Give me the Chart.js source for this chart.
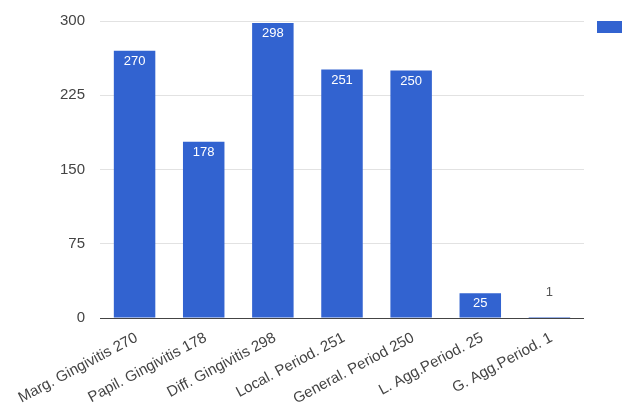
<!DOCTYPE html>
<html>
<head>
<meta charset="utf-8">
<script src="https://cdn.jsdelivr.net/npm/chart.js@4/dist/chart.umd.min.js"></script>
<style>
  html, body { margin: 0; padding: 0; background: #fff; }
  #wrap { width: 622px; height: 403px; position: relative; }
</style>
</head>
<body>
<div id="wrap"><canvas id="c" width="622" height="403"></canvas></div>
<script>
const categories = [
  'Marg. Gingivitis 270',
  'Papil. Gingivitis 178',
  'Diff. Gingivitis 298',
  'Local. Period. 251',
  'General. Period 250',
  'L. Agg.Period. 25',
  'G. Agg.Period. 1'
];
const cases = [270, 178, 298, 251, 250, 25, 1];
const yTicks = [0, 75, 150, 225, 300];

const BAR_BLUE = '#3263d0';
const FONT = '"Liberation Sans", Arial, sans-serif';

// Value labels: white inside the bar top, grey above very short bars
const valueLabels = {
  id: 'valueLabels',
  afterDatasetsDraw(chart) {
    const ctx = chart.ctx;
    const meta = chart.getDatasetMeta(0);
    ctx.save();
    ctx.font = '13px ' + FONT;
    ctx.textAlign = 'center';
    meta.data.forEach((bar, i) => {
      const v = cases[i];
      const h = bar.base - bar.y;
      if (h > 16) {
        ctx.fillStyle = '#ffffff';
        ctx.textBaseline = 'top';
        ctx.fillText(String(v), bar.x, bar.y + 4);
      } else {
        ctx.fillStyle = '#555555';
        ctx.textBaseline = 'bottom';
        ctx.fillText(String(v), bar.x, bar.y - 18);
      }
    });
    ctx.restore();
  }
};

// Legend swatch at the right edge
const legendSwatch = {
  id: 'legendSwatch',
  afterDraw(chart) {
    const ctx = chart.ctx;
    ctx.save();
    ctx.fillStyle = BAR_BLUE;
    ctx.fillRect(597, 21, 25, 12);
    ctx.restore();
  }
};

new Chart(document.getElementById('c'), {
  type: 'bar',
  data: {
    labels: categories,
    datasets: [{
      label: 'Cases',
      data: cases,
      backgroundColor: BAR_BLUE,
      borderWidth: 0,
      categoryPercentage: 1,
      barPercentage: 0.6
    }]
  },
  options: {
    responsive: false,
    animation: false,
    layout: { padding: { left: 0, right: 38, top: 21, bottom: 0 } },
    plugins: {
      legend: { display: false },
      tooltip: { enabled: false }
    },
    scales: {
      x: {
        grid: { display: false },
        border: { display: false },
        ticks: {
          autoSkip: false,
          minRotation: 28,
          maxRotation: 28,
          labelOffset: 2,
          padding: 3,
          color: '#444',
          font: { family: FONT, size: 15 }
        },
        afterFit(scale) {
          scale.height = 85;
          scale.paddingLeft = 0;
          scale.paddingRight = 0;
        }
      },
      y: {
        min: 0,
        max: 300,
        afterBuildTicks(scale) { scale.ticks = yTicks.map(v => ({ value: v })); },
        grid: {
          drawTicks: false,
          color: ctx => (ctx.tick && ctx.tick.value === 0) ? '#444' : '#e2e2e2'
        },
        border: { display: false },
        ticks: {
          padding: 15,
          color: '#444',
          font: { family: FONT, size: 15 }
        },
        afterFit(scale) {
          scale.width = 100;
          scale.paddingTop = 0;
          scale.paddingBottom = 0;
        }
      }
    }
  },
  plugins: [valueLabels, legendSwatch]
});
</script>
</body>
</html>
